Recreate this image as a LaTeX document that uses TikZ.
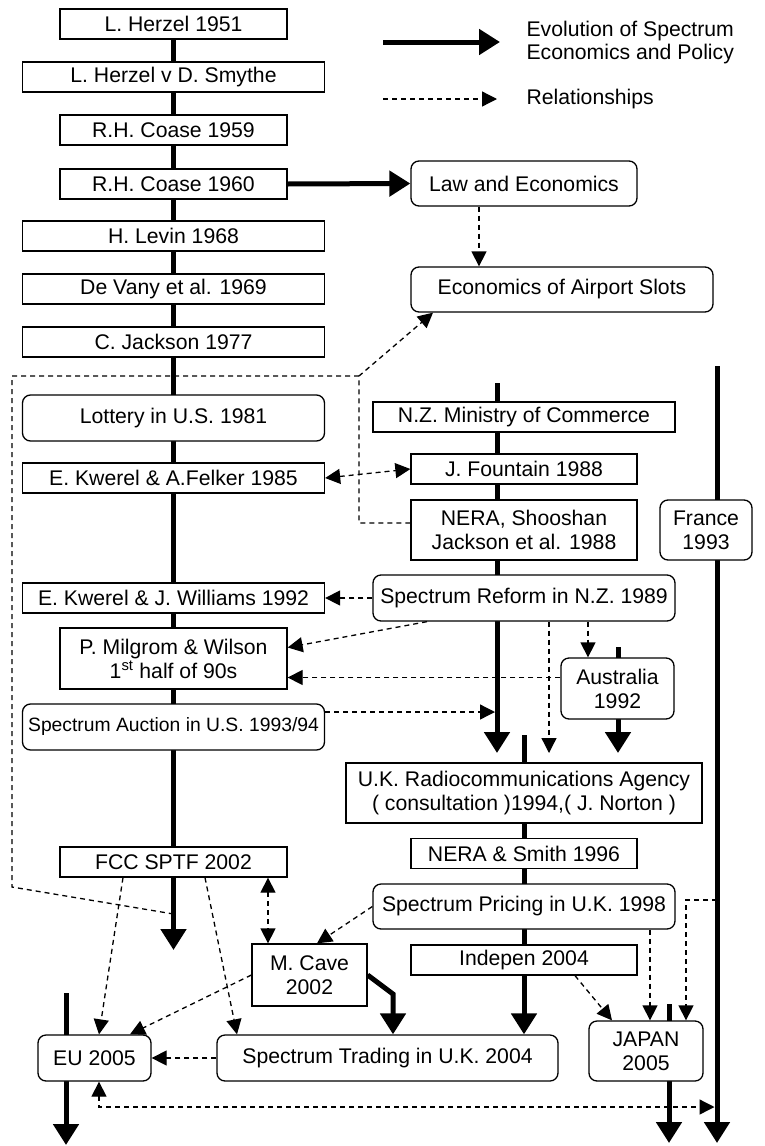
\documentclass[tikz,border=0pt]{standalone}
\usepackage{fontspec}
\setmainfont{Liberation Sans}
\usetikzlibrary{arrows.meta}
\pgfdeclarelayer{background}
\pgfsetlayers{background,main}

\tikzset{
  box/.style={draw, fill=white, line width=1.3pt, inner sep=0pt, align=center,
    font=\fontsize{21.2}{24}\selectfont},
  rbox/.style={box, rounded corners=8pt},
  narrow/.style={minimum width=227pt, minimum height=30pt},
  wide/.style={minimum width=302pt, minimum height=30pt},
  mid/.style={minimum width=226pt, minimum height=30pt},
  evo/.style={line width=5pt, -{Triangle[length=21pt,width=25pt]}},
  dline/.style={line width=1.3pt, dash pattern=on 5pt off 4pt},
  rel/.style={dline, -{Triangle[length=15pt,width=15pt]}},
  relboth/.style={dline, {Triangle[length=15pt,width=15pt]}-{Triangle[length=15pt,width=15pt]}}
}

\begin{document}
\begin{tikzpicture}[x=1pt, y=-1pt]
      \useasboundingbox (0,0) rectangle (765,1146);

      \node[box, narrow] (herzel) at (173.5,24) {L. Herzel 1951};
      \node[box, wide] (smythe) at (173.5,77) {L. Herzel v D. Smythe};
      \node[box, narrow] (coaseA) at (173.5,130) {R.H. Coase 1959};
      \node[box, narrow] (coaseB) at (173.5,184) {R.H. Coase 1960};
      \node[box, wide] (levin) at (173.5,236) {H. Levin 1968};
      \node[box, wide] (devany) at (173.5,289) {De Vany et al. 1969};
      \node[box, wide] (jackson) at (173.5,342) {C. Jackson 1977};
      \node[rbox, wide, minimum height=46pt] (lottery) at (173.5,418) {Lottery in U.S. 1981};
      \node[box, wide] (kwerelA) at (173.5,478) {E. Kwerel \& A.Felker 1985};
      \node[box, wide] (kwerelB) at (173.5,598) {E. Kwerel \& J. Williams 1992};
      \node[box, narrow, minimum height=61pt] (milgrom) at (173.5,658.5) {P. Milgrom \& Wilson\\1\textsuperscript{st} half of 90s};
      \node[rbox, wide, minimum height=46pt, font=\fontsize{19.3}{22}\selectfont] (auction) at (173.5,727) {Spectrum Auction in U.S. 1993/94};
      \node[box, narrow] (fcc) at (173.5,862) {FCC SPTF 2002};
      \node[box, minimum width=115pt, minimum height=62pt] (cave) at (309.5,975) {M. Cave\\2002};
      \node[rbox, minimum width=113pt, minimum height=46pt] (eu) at (94.5,1058) {EU 2005};
      \node[rbox, minimum width=341pt, minimum height=46pt] (trading) at (387.5,1058) {Spectrum Trading in U.K. 2004};

      \node[rbox, minimum width=226pt, minimum height=45pt] (law) at (524,183.5) {Law and Economics};
      \node[rbox, wide, minimum height=45pt] (slots) at (562,289.5) {Economics of Airport Slots};
      \node[box, wide] (nzmoc) at (524,417) {N.Z. Ministry of Commerce};
      \node[box, mid] (fountain) at (524,469) {J. Fountain 1988};
      \node[box, mid, minimum height=60pt] (nera) at (524,530) {NERA, Shooshan\\Jackson et al. 1988};
      \node[rbox, minimum width=92pt, minimum height=60pt] (france) at (706,530) {France\\1993};
      \node[rbox, wide, minimum height=46pt] (reform) at (524,598) {Spectrum Reform in N.Z. 1989};
      \node[rbox, minimum width=113pt, minimum height=61pt] (australia) at (617.5,688.5) {Australia\\1992};
      \node[box, minimum width=356pt, minimum height=60pt] (ukra) at (524,793) {U.K. Radiocommunications Agency\\( consultation )1994,( J. Norton )};
      \node[box, mid] (smith) at (524,853.5) {NERA \& Smith 1996};
      \node[rbox, wide, minimum height=45pt] (pricing) at (524,906.5) {Spectrum Pricing in U.K. 1998};
      \node[box, mid] (indepen) at (524,960) {Indepen 2004};
      \node[rbox, minimum width=114pt, minimum height=60pt] (japan) at (646,1051) {JAPAN\\2005};

      \node[anchor=west, align=left, font=\fontsize{21.2}{23}\selectfont] (legEvo) at (523,43) {Evolution of Spectrum\\Economics and Policy};
      \node[anchor=west, font=\fontsize{21.2}{23}\selectfont] (legRel) at (523,99) {Relationships};
      \coordinate(legA) at (383,42);
      \coordinate(legB) at (383,99);
      \draw[evo] (legA) -- ([xshift=-23pt]legA -| legEvo.west);
      \draw[rel] (legB) -- ([xshift=-26pt]legB -| legRel.west);

      \coordinate(fccEnd) at (173.5,950);
      \coordinate(nzTop) at (497,383);
      \coordinate(nzEnd) at (497,753);
      \coordinate(nzHit) at (495,712);
      \coordinate(ukTop) at (524,735);
      \coordinate(ausTop) at (618,647);
      \coordinate(fraTop) at (717,366);
      \coordinate(fraEnd) at (717,1143);
      \coordinate(fraTap) at (717,900);
      \coordinate(fraHit) at (714.5,1107);
      \coordinate(japTop) at (669,1004);
      \coordinate(japEnd) at (669,1143);
      \coordinate(euTop) at (66,993);
      \coordinate(euEnd) at (66,1145);
      \coordinate(caveBend) at (393,994);
      \coordinate(cnr) at (359,376);
      \coordinate(loopL) at (12,887);
      \coordinate(fccHit) at (173.5,914);

      \begin{pgfonlayer}{background}
        \draw[evo] (herzel.south) -- (fccEnd);
        \draw[evo] (nzTop) -- (nzEnd);
        \draw[evo] (ukTop) -- (ukTop |- trading.north);
        \draw[evo] (ausTop) -- (ausTop |- nzEnd);
        \draw[evo] (fraTop) -- (fraEnd);
        \draw[evo] (japTop) -- (japEnd);
        \draw[evo] (euTop) -- (euEnd);
      \end{pgfonlayer}
      \draw[evo] (coaseB.east) -- (law.west);
      \draw[evo] (cave.east) -- (caveBend) -- (caveBend |- trading.north);

      \draw[rel] ([xshift=-45pt]law.south) -- ([xshift=-45pt]law.south |- slots.north);
      \draw[rel] ([yshift=7pt]nera.west) -| (cnr) -- ([xshift=-129pt]slots.south);
      \draw[dline] (cnr) -| (loopL) -- (fccHit);
      \draw[relboth] (kwerelA.east) -- (fountain.west);
      \draw[rel] (reform.west) -- (kwerelB.east);
      \draw[rel] ([xshift=-97pt]reform.south) -- ([yshift=11pt]milgrom.east);
      \draw[rel] ([yshift=11pt]australia.west) -- ([yshift=11pt]australia.west -| milgrom.east);
      \draw[rel] ([yshift=15pt]auction.east) -- (nzHit);
      \draw[rel] ([xshift=25pt]reform.south) -- ([xshift=25pt]reform.south |- nzEnd);
      \draw[rel] ([xshift=64pt]reform.south) -- ([xshift=64pt]reform.south |- australia.north);
      \draw[rel] (pricing.west) -- ([xshift=7.5pt]cave.north);
      \draw[relboth] ([xshift=94.5pt]fcc.south) -- ([xshift=94.5pt]fcc.south |- cave.north);
      \draw[rel] ([xshift=-50.5pt]fcc.south) -- ([xshift=4.5pt]eu.north);
      \draw[rel] ([xshift=31.5pt]fcc.south) -- ([xshift=-150.5pt]trading.north);
      \draw[rel] (cave.west) -- ([xshift=35.5pt]eu.north);
      \draw[rel] (trading.west) -- (eu.east);
      \draw[relboth] ([xshift=4.5pt]eu.south) |- (fraHit);
      \draw[rel] ([xshift=51pt]indepen.south) -- ([xshift=-34pt]japan.north);
      \draw[rel] ([xshift=126pt]pricing.south) -- ([xshift=126pt]pricing.south |- japan.north);
      \draw[rel] (fraTap) -| ([xshift=40pt]japan.north);
\end{tikzpicture}
\end{document}
